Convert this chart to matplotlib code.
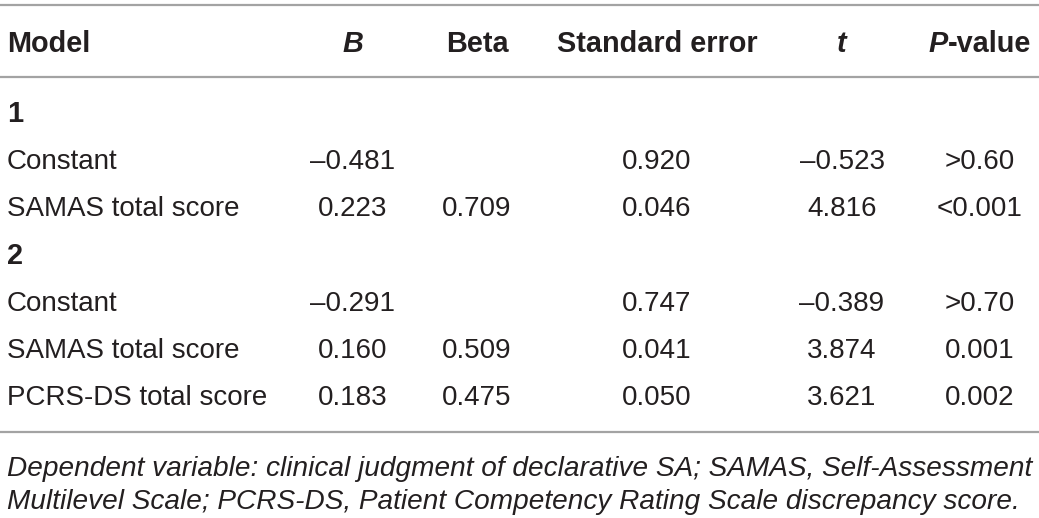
import matplotlib
matplotlib.use("Agg")
import matplotlib.pyplot as plt

# table content
header = ["Model", "B", "Beta", "Standard error", "t", "P", "-value"]
row_labels = ["1", "Constant", "SAMAS total score",
              "2", "Constant", "SAMAS total score", "PCRS-DS total score"]
group_rows = [True, False, False, True, False, False, False]
b_vals = ["", "\u20130.481", "0.223", "", "\u20130.291", "0.160", "0.183"]
beta_vals = ["", "", "0.709", "", "", "0.509", "0.475"]
se_vals = ["", "0.920", "0.046", "", "0.747", "0.041", "0.050"]
t_vals = ["", "\u20130.523", "4.816", "", "\u20130.389", "3.874", "3.621"]
p_vals = ["", ">0.60", "<0.001", "", ">0.70", "0.001", "0.002"]
footnote = ["Dependent variable: clinical judgment of declarative SA; SAMAS, Self-Assessment",
            "Multilevel Scale; PCRS-DS, Patient Competency Rating Scale discrepancy score."]

W, H = 1039, 518
TXT = "#231f20"
LINE = "#a3a3a3"
FS = 20
FS_HEAD = 20.8
plt.rcParams["font.family"] = ["Liberation Sans", "DejaVu Sans"]

fig = plt.figure(figsize=(W / 100, H / 100), dpi=100)
ax = fig.add_axes([0, 0, 1, 1])
ax.set_xlim(0, W)
ax.set_ylim(H, 0)
ax.axis("off")

# rules
for y in (5, 77, 432):
    ax.plot([0, W], [y, y], color=LINE, lw=1.6, solid_capstyle="butt")

col_x = [7, 353, 477, 657, 842, 980]

# header
hy = 52
ax.text(col_x[0], hy, header[0], fontsize=FS_HEAD, fontweight="bold", color=TXT, ha="left", va="baseline")
ax.text(col_x[1], hy, header[1], fontsize=FS_HEAD, fontweight="bold", fontstyle="italic",
        color=TXT, ha="center", va="baseline")
ax.text(col_x[2], hy, header[2], fontsize=FS_HEAD, fontweight="bold", color=TXT, ha="center", va="baseline")
ax.text(col_x[3], hy, header[3], fontsize=FS_HEAD, fontweight="bold", color=TXT, ha="center", va="baseline")
ax.text(col_x[4], hy, header[4], fontsize=FS_HEAD, fontweight="bold", fontstyle="italic",
        color=TXT, ha="center", va="baseline")
# "P-value" with italic P, split point near x=948
ax.text(948, hy, header[5], fontsize=FS_HEAD, fontweight="bold", fontstyle="italic",
        color=TXT, ha="right", va="baseline")
ax.text(948, hy, header[6], fontsize=FS_HEAD, fontweight="bold", color=TXT,
        ha="left", va="baseline")

# body
y0, dy = 122, 47.2
for i, lab in enumerate(row_labels):
    y = y0 + i * dy
    ax.text(col_x[0], y, lab, fontsize=FS_HEAD if group_rows[i] else FS, color=TXT,
            ha="left", va="baseline", fontweight="bold" if group_rows[i] else "normal")
    for cx, vals in zip(col_x[1:], [b_vals, beta_vals, se_vals, t_vals, p_vals]):
        if vals[i]:
            ax.text(cx, y, vals[i], fontsize=FS, color=TXT, ha="center", va="baseline")

# footnote
for j, line in enumerate(footnote):
    ax.text(col_x[0], 476 + j * 33, line, fontsize=20.2, fontstyle="italic",
            color=TXT, ha="left", va="baseline")

fig.savefig("out.png", dpi=100, facecolor="white")
